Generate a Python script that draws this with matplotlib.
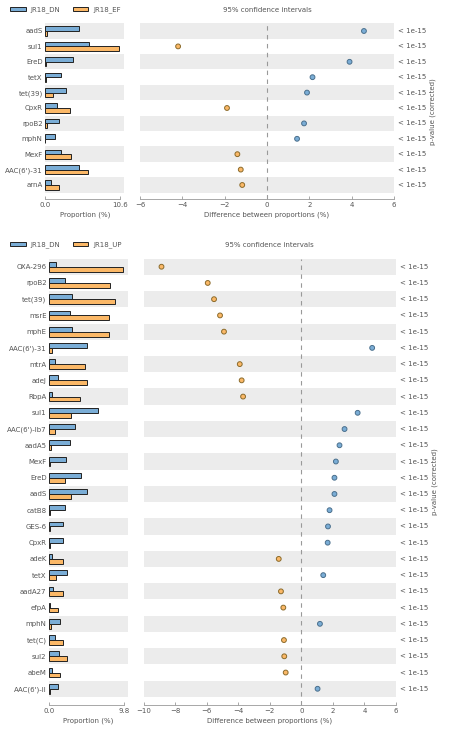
import numpy as np
import matplotlib
matplotlib.use('Agg')
import matplotlib.pyplot as plt
from matplotlib.patches import Patch

# painel de cima: JR18_DN x JR18_EF
genes1 = ['aadS', 'sul1', 'EreD', 'tetX', 'tet(39)', 'CpxR', 'rpoB2', 'mphN', 'MexF', "AAC(6')-31", 'arnA']
dn1 = [4.75, 6.2, 3.95, 2.2, 2.9, 1.6, 1.9, 1.35, 2.2, 4.8, 0.8]
ef1 = [0.2, 10.4, 0.05, 0.03, 1.0, 3.45, 0.15, 0.0, 3.6, 6.0, 1.9]
dif1 = [4.58, -4.2, 3.9, 2.15, 1.89, -1.89, 1.75, 1.42, -1.4, -1.24, -1.17]
pv1 = ['< 1e-15'] * len(genes1)

# painel de baixo: JR18_DN x JR18_UP
genes2 = ['OXA-296', 'rpoB2', 'tet(39)', 'msrE', 'mphE', "AAC(6')-31", 'mtrA', 'adeJ', 'RbpA', 'sul1',
          "AAC(6')-Ib7", 'aadA5', 'MexF', 'EreD', 'aadS', 'catB8', 'GES-6', 'CpxR', 'adeK', 'tetX',
          'aadA27', 'efpA', 'mphN', 'tet(C)', 'sul2', 'abeM', "AAC(6')-II"]
dn2 = [0.9, 2.0, 3.0, 2.7, 3.0, 4.9, 0.8, 1.2, 0.3, 6.4, 3.4, 2.7, 2.25, 4.1, 4.9, 2.0, 1.8, 1.75,
       0.4, 2.3, 0.55, 0.05, 1.4, 0.8, 1.25, 0.4, 1.15]
up2 = [9.7, 7.9, 8.55, 7.85, 7.85, 0.4, 4.7, 5.0, 4.0, 2.9, 0.7, 0.25, 0.05, 2.0, 2.8, 0.15, 0.1, 0.05,
       1.85, 0.9, 1.85, 1.2, 0.25, 1.85, 2.3, 1.4, 0.15]
dif2 = [-8.86, -5.93, -5.53, -5.15, -4.9, 4.49, -3.9, -3.78, -3.69, 3.57, 2.74, 2.42, 2.19, 2.1, 2.1,
        1.79, 1.69, 1.67, -1.43, 1.39, -1.29, -1.14, 1.18, -1.1, -1.08, -0.99, 1.03]
pv2 = ['< 1e-15'] * len(genes2)

azul = '#7aadd6'
laranja = '#fbb867'
faixa = '#ececec'
cinza = '#555555'
fs = 5

W, H = 452, 734
fig = plt.figure(figsize=(W / 100, H / 100), dpi=100)


def px(x0, x1, y0, y1):
    # caixa em pixels -> fracao da figura
    return [x0 / W, 1 - y1 / H, (x1 - x0) / W, (y1 - y0) / H]


def painel(genes, a, b, dif, pv, nomes, bar_box, dot_box, bar_lim, bar_max, dif_lim, dif_ticks, pad, leg_y, pv_x):
    n = len(genes)
    y = np.arange(n)
    axb = fig.add_axes(bar_box)
    axd = fig.add_axes(dot_box)
    for ax in [axb, axd]:
        for i in range(0, n, 2):
            ax.axhspan(i - 0.5, i + 0.5, color=faixa, lw=0, zorder=0)
        ax.set_ylim(n - 0.5 + pad, -0.5)
        for s in ['top', 'right', 'left']:
            ax.spines[s].set_visible(False)
        ax.spines['bottom'].set_color('#999999')
        ax.spines['bottom'].set_linewidth(0.6)
        ax.tick_params(axis='x', direction='in', length=2.5, width=0.6, color='#999999',
                       labelsize=fs, labelcolor=cinza, pad=2)
        ax.tick_params(axis='y', length=0)

    hb = 0.3
    axb.barh(y - hb / 2, a, height=hb, color=azul, edgecolor='#222222', lw=0.7, zorder=2)
    axb.barh(y + hb / 2, b, height=hb, color=laranja, edgecolor='#222222', lw=0.7, zorder=2)
    axb.set_xlim(0, bar_lim)
    axb.set_xticks([0, bar_max])
    axb.set_xticklabels(['0.0', f'{bar_max:.1f}'])
    axb.spines['bottom'].set_bounds(0, bar_max)
    axb.set_yticks(y)
    axb.set_yticklabels(genes, fontsize=fs, color=cinza)
    axb.tick_params(axis='y', pad=2)
    axb.set_xlabel('Proportion (%)', fontsize=fs, color=cinza, labelpad=3)

    cores = [azul if d > 0 else laranja for d in dif]
    bordas = ['#4a6f8c' if d > 0 else '#8a6a2a' for d in dif]
    axd.scatter(dif, y, s=12, c=cores, edgecolors=bordas, linewidths=0.7, zorder=3)
    axd.axvline(0, color='#999999', ls=(0, (4, 4)), lw=0.8, zorder=1)
    axd.set_xlim(dif_lim)
    axd.set_xticks(dif_ticks)
    axd.set_xticklabels([str(t).replace('-', '\u2212') for t in dif_ticks])
    axd.spines['bottom'].set_bounds(dif_lim[0], dif_lim[1])
    axd.set_yticks([])
    axd.set_xlabel('Difference between proportions (%)', fontsize=fs, color=cinza, labelpad=3)
    for i in range(n):
        axd.text(1.015, i, pv[i], transform=axd.get_yaxis_transform(), fontsize=fs,
                 color=cinza, va='center', ha='left')
    axd.text(pv_x, 0.5, 'p-value (corrected)', transform=axd.transAxes, rotation=90,
             fontsize=fs, color=cinza, va='center', ha='center')

    fig.text(axd.get_position().x0 + axd.get_position().width / 2, 1 - leg_y / H,
             '95% confidence intervals', fontsize=fs, color=cinza, ha='center', va='center')
    handles = [Patch(facecolor=azul, edgecolor='#222222', lw=0.7),
               Patch(facecolor=laranja, edgecolor='#222222', lw=0.7)]
    fig.legend(handles, nomes, loc='center left', bbox_to_anchor=(7 / W, 1 - leg_y / H),
               ncol=2, frameon=False, fontsize=fs, handlelength=2.2, handleheight=0.55,
               handletextpad=0.7, columnspacing=1.8, borderpad=0, labelcolor=cinza)


painel(genes1, dn1, ef1, dif1, pv1, ['JR18_DN', 'JR18_EF'],
       px(45.5, 124, 23.3, 199), px(140, 394, 23.3, 199),
       11.1, 10.6, (-6, 6), [-6, -4, -2, 0, 2, 4, 6], 0.41, 10, (433 - 140) / 254)

painel(genes2, dn2, up2, dif2, pv2, ['JR18_DN', 'JR18_UP'],
       px(49.3, 127.7, 258.6, 705), px(143.5, 396, 258.6, 705),
       10.28, 9.8, (-10, 6), [-10, -8, -6, -4, -2, 0, 2, 4, 6], 0.5, 245, (435 - 143.5) / 252.5)

fig.savefig('out.png', dpi=100)
